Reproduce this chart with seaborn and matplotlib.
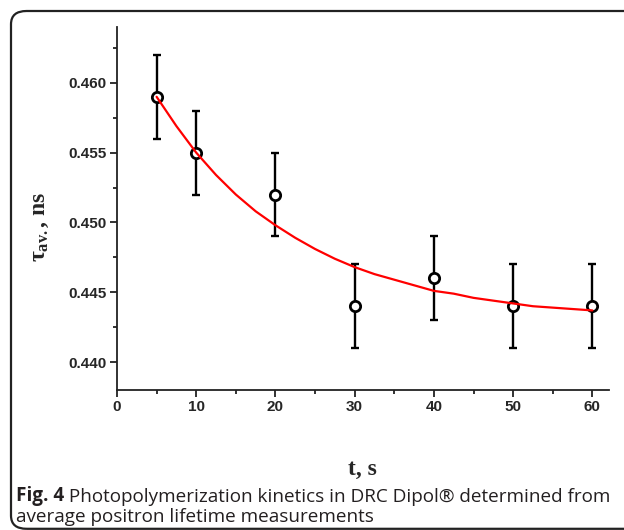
import numpy as np
import pandas as pd
import seaborn as sns
import matplotlib.pyplot as plt
from matplotlib.patches import FancyBboxPatch
from matplotlib.ticker import MultipleLocator

# measured points
t_s = [5, 10, 20, 30, 40, 50, 60]
tau_av = [0.459, 0.455, 0.452, 0.444, 0.446, 0.444, 0.444]
tau_err = [0.003, 0.003, 0.003, 0.003, 0.003, 0.003, 0.003]

# red fit curve
fit_t = [5, 7.5, 10, 12.5, 15, 17.5, 20, 22.5, 25, 27.5, 30, 32.5,
         35, 37.5, 40, 42.5, 45, 47.5, 50, 52.5, 55, 57.5, 60]
fit_tau = [0.4590, 0.4569, 0.4550, 0.4534, 0.4520, 0.4508, 0.4498, 0.4489,
           0.4481, 0.4474, 0.4468, 0.4463, 0.4459, 0.4455, 0.4451, 0.4449,
           0.4446, 0.4444, 0.4442, 0.4440, 0.4439, 0.4438, 0.4437]

caption_bold = 'Fig. 4'
caption_rest = ' Photopolymerization kinetics in DRC Dipol® determined from'
caption_line2 = 'average positron lifetime measurements'

sns.set_style('ticks')
plt.rcParams['font.family'] = ['Liberation Sans', 'DejaVu Sans']
plt.rcParams['mathtext.fontset'] = 'custom'
plt.rcParams['mathtext.rm'] = 'Liberation Serif:bold'
plt.rcParams['mathtext.it'] = 'Liberation Serif:bold'
plt.rcParams['mathtext.bf'] = 'Liberation Serif:bold'

points = pd.DataFrame({'t': t_s, 'tau': tau_av})
fit = pd.DataFrame({'t': fit_t, 'tau': fit_tau})

fig = plt.figure(figsize=(6.24, 5.30), dpi=100)
ax = fig.add_axes([117 / 624, 1 - 390 / 530, 492 / 624, 363 / 530])

# frame around the whole figure (right side runs off the picture)
box = FancyBboxPatch((11 / 624, 1.2 / 530), 640 / 624, 517.8 / 530,
                     boxstyle='round,pad=0,rounding_size=0.025',
                     transform=fig.transFigure, fill=False,
                     edgecolor='#222222', linewidth=1.6, clip_on=False)
fig.patches.append(box)

ax.errorbar(t_s, tau_av, yerr=tau_err, fmt='none', ecolor='black',
            elinewidth=1.7, capsize=3, capthick=1.7, zorder=3)
sns.scatterplot(data=points, x='t', y='tau', ax=ax, marker='o', s=55,
                facecolor='white', edgecolor='black', linewidth=2.0, zorder=4)
sns.lineplot(data=fit, x='t', y='tau', color='red', linewidth=1.6, ax=ax, zorder=5)

ax.set_xlim(0, 62.1)
ax.set_ylim(0.438, 0.464)
ax.xaxis.set_major_locator(MultipleLocator(10))
ax.xaxis.set_minor_locator(MultipleLocator(5))
ax.yaxis.set_minor_locator(MultipleLocator(0.0025))
ax.set_yticks([0.440, 0.445, 0.450, 0.455, 0.460])
ax.set_yticklabels(['0.440', '0.445', '0.450', '0.455', '0.460'])

sns.despine(ax=ax)
for s in ['left', 'bottom']:
    ax.spines[s].set_linewidth(1.3)
    ax.spines[s].set_color('#222222')
ax.tick_params(which='major', length=5, width=1.3, color='#222222',
               labelsize=11, pad=2.5)
ax.tick_params(which='minor', length=3, width=1.3, color='#222222')
for lab in ax.get_xticklabels() + ax.get_yticklabels():
    lab.set_fontweight('bold')

ax.set_xlabel('t, s', fontsize=17, fontweight='bold', family='Liberation Serif')
ax.xaxis.set_label_coords(0.498, -0.19)
ax.set_ylabel(r'$\tau_{av.}$, ns', fontsize=17, fontweight='bold',
              family='Liberation Serif')
ax.yaxis.set_label_coords(-0.135, 0.45)

cap_col = '#231f20'
bold = fig.text(16 / 624, 1 - 501 / 530, caption_bold, fontsize=13.6,
                fontweight='bold', family='Open Sans', va='baseline', color=cap_col)
ax.annotate(caption_rest, xy=(1, 0), xycoords=bold, fontsize=13.6,
            family='Open Sans', va='bottom', ha='left', color=cap_col,
            annotation_clip=False)
fig.text(16 / 624, 1 - 521.5 / 530, caption_line2, fontsize=13.6,
         family='Open Sans', va='baseline', color=cap_col)

fig.savefig('out.png', dpi=100)
